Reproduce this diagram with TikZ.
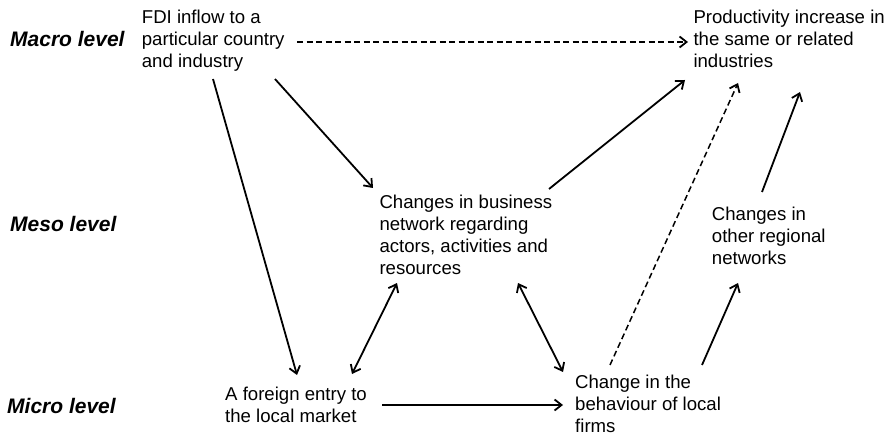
\documentclass[tikz,border=0pt]{standalone}
\usepackage{fontspec}
\setmainfont{Liberation Sans}
\usetikzlibrary{arrows.meta,calc}
\begin{document}
\begin{tikzpicture}[x=1pt,y=-1pt,
  txt/.style={anchor=base west,inner sep=0pt,align=left,
    font=\fontsize{18.6}{22}\selectfont},
  lvl/.style={anchor=base west,inner sep=0pt,
    font=\fontsize{21}{24}\selectfont\bfseries\itshape},
  link/.style={line width=1.8pt,-{Straight Barb[length=7pt,width=11pt,line width=1.8pt]}},
  both/.style={line width=1.8pt,{Straight Barb[length=7pt,width=11pt,line width=1.8pt]}-{Straight Barb[length=7pt,width=11pt,line width=1.8pt]}},
  dlink/.style={line width=1.5pt,dash pattern=on 6pt off 3.5pt,
    -{Straight Barb[length=7pt,width=11pt,line width=1.8pt]}}]
\useasboundingbox (0,0) rectangle (890,438);

% level labels
\node[lvl] (macro) at (10,46.5) {Macro level};
\node[lvl] (meso)  at (10,231.7) {Meso level};
\node[lvl] (micro) at (7,413) {Micro level};

% statements (placed by the baseline of their last line)
\node[txt] (fdi)  at (141.7,68)  {FDI inflow to a\\particular country\\and industry};
\node[txt] (prod) at (693.3,68)  {Productivity increase in\\the same or related\\industries};
\node[txt] (bus)  at (379.3,274.3) {Changes in business\\network regarding\\actors, activities and\\resources};
\node[txt] (oth)  at (711.7,264) {Changes in\\other regional\\networks};
\node[txt] (ent)  at (225,422)   {A foreign entry to\\the local market};
\node[txt] (beh)  at (575,432.3) {Change in the\\behaviour of local\\firms};

% connectors
\draw[dlink] ($(fdi.base west)+(155.3,-26)$) -- ($(prod.base west)+(-5.3,-26)$);
\draw[link] ($(fdi.base west)+(133.3,11)$) -- ($(bus.base west)+(-6.3,-86.3)$);
\draw[link] ($(fdi.base west)+(71.3,11)$) -- ($(ent.base west)+(72,-47)$);
\draw[link] ($(bus.base west)+(169.7,-85.3)$) -- ($(prod.base west)+(-8.3,12)$);
\draw[dlink] ($(beh.base west)+(35,-67.3)$) -- ($(prod.base west)+(44.7,15)$);
\draw[link] ($(oth.base west)+(50.3,-72)$) -- ($(prod.base west)+(106.7,24)$);
\draw[link] ($(beh.base west)+(127,-67.3)$) -- ($(oth.base west)+(26.3,19)$);
\draw[both] ($(ent.base west)+(127,-48)$) -- ($(bus.base west)+(17.7,8.7)$);
\draw[both] ($(bus.base west)+(138.7,8.7)$) -- ($(beh.base west)+(-12,-60.3)$);
\draw[link] ($(ent.base west)+(157,-17)$) -- ($(beh.base west)+(-12,-27.3)$);
\end{tikzpicture}
\end{document}
